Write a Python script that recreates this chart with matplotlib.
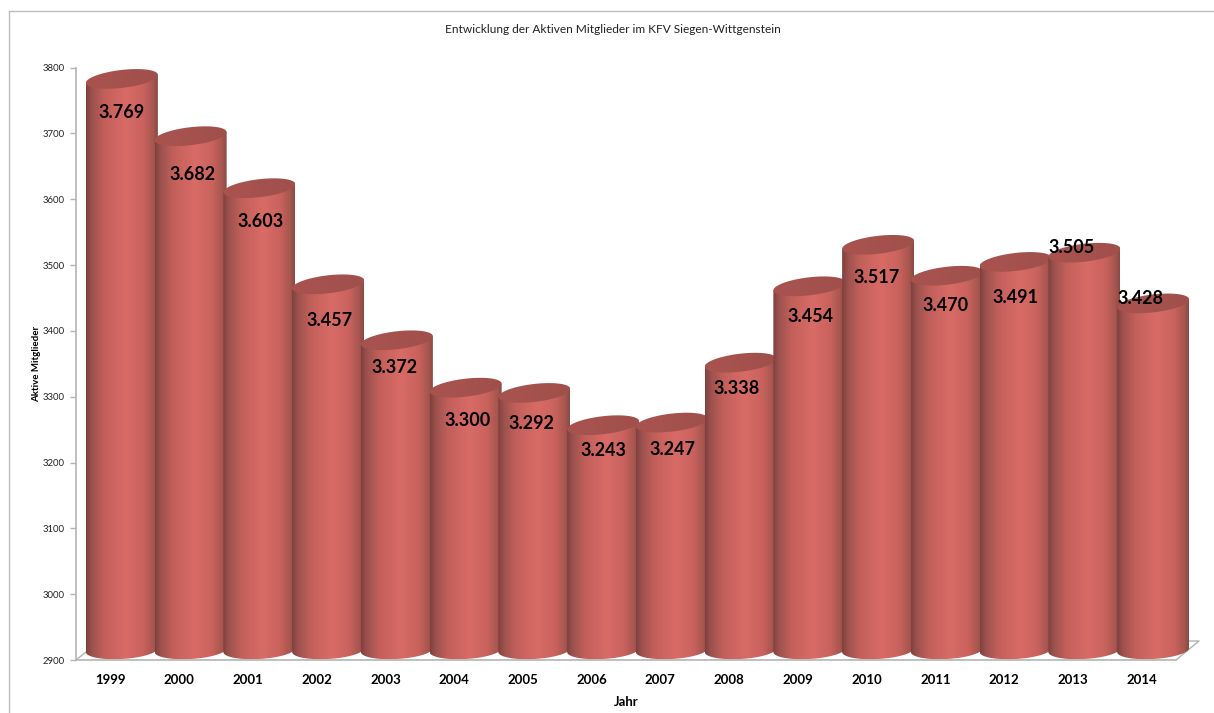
import matplotlib
matplotlib.use("Agg")
import matplotlib.pyplot as plt
import numpy as np
from matplotlib.colors import LinearSegmentedColormap
from matplotlib.lines import Line2D
from matplotlib.patches import PathPatch
from matplotlib.path import Path

years = ["1999", "2000", "2001", "2002", "2003", "2004", "2005", "2006",
         "2007", "2008", "2009", "2010", "2011", "2012", "2013", "2014"]
members = [3769, 3682, 3603, 3457, 3372, 3300, 3292, 3243,
           3247, 3338, 3454, 3517, 3470, 3491, 3505, 3428]
value_labels = ["3.769", "3.682", "3.603", "3.457", "3.372", "3.300", "3.292", "3.243",
                "3.247", "3.338", "3.454", "3.517", "3.470", "3.491", "3.505", "3.428"]
yticks = [2900, 3000, 3100, 3200, 3300, 3400, 3500, 3600, 3700, 3800]

# label placement relative to the tick / bar top, in pixels
label_dx = [11, 13, 12.5, 13, 9, 13, 8.5, 12, 12, 7, 12.5, 10, 10, 11.5, -1.5, -1]
label_dy = [25, 29, 24, 27, 18, 24, 22, 16, 18, 17, 21.5, 24, 21, 27, -14, -14]

W, H = 1214, 713
plt.rcParams["font.family"] = ["Lato", "DejaVu Sans"]

fig = plt.figure(figsize=(W / 100, H / 100), dpi=100)
ax = fig.add_axes([76 / W, 1 - 660 / H, 1100 / W, 592.5 / H])
ax.set_xlim(-0.5, 15.5)
ax.set_ylim(2900, 3800)

px_x = 16 / 1100
px_y = 900 / 592.5

body_cmap = LinearSegmentedColormap.from_list("body", [
    (0.0, "#7e403d"), (0.08, "#9c524e"), (0.25, "#c25f5a"), (0.55, "#d96b66"),
    (0.8, "#c9625d"), (0.93, "#a8574f"), (1.0, "#8a4a46")])
top_cmap = LinearSegmentedColormap.from_list("top", ["#a9534f", "#a5524e", "#a04f4b"])
gradient = np.linspace(0, 1, 256).reshape(1, -1)

half_w = 36
semi_h = 9
tilt_top = 4
tilt_bottom = 2
t = np.linspace(0, 2 * np.pi, 121)


def clipped_gradient(cmap, extent, verts, z):
    img = ax.imshow(gradient, cmap=cmap, aspect="auto", zorder=z, extent=extent)
    clip = PathPatch(Path(verts), transform=ax.transData, fc="none", ec="none")
    ax.add_patch(clip)
    clip.set_clip_on(False)
    img.set_clip_path(clip)
    # the last bar reaches past the axes box
    img.set_clip_box(fig.bbox)


def draw_cylinder(i, value):
    cx = i + 11.5 * px_x
    left = cx - half_w * px_x
    right = cx + half_w * px_x
    top_c = value + semi_h * px_y

    # lower half of the bottom ellipse gives the outline of the body
    ang = np.linspace(np.pi, 2 * np.pi, 61)
    bot_x = cx + half_w * px_x * np.cos(ang)
    bot_y = 2900 + 10 * px_y - semi_h * px_y * np.abs(np.sin(ang)) + tilt_bottom * px_y * np.cos(ang)
    top_x = cx + half_w * px_x * np.cos(t)
    top_y = top_c + semi_h * px_y * np.sin(t) + tilt_top * px_y * np.cos(t)

    verts = np.column_stack([
        np.r_[left, bot_x, right, left],
        np.r_[top_c - tilt_top * px_y, bot_y, top_c + tilt_top * px_y, top_c - tilt_top * px_y]])
    clipped_gradient(body_cmap, [left, right, 2880, top_c + 30 * px_y], verts, 3 + i)
    clipped_gradient(top_cmap, [left, right, top_c - 20 * px_y, top_c + 20 * px_y],
                     np.column_stack([top_x, top_y]), 3.5 + i)


for i, value in enumerate(members):
    draw_cylinder(i, value)

ax.set_xlim(-0.5, 15.5)
ax.set_ylim(2900, 3800)

for i, value in enumerate(members):
    ax.annotate(value_labels[i], (i, value), xytext=(label_dx[i], -label_dy[i]),
                textcoords="offset pixels", ha="center", va="center",
                fontsize=13, fontweight="bold", color="black", zorder=40,
                annotation_clip=False)

# floor of the 3d box
grey = "#b4b4b4"
ax.plot([-0.5, -0.5 + 10 * px_x], [2900, 2900 + 8 * px_y], color=grey, lw=1, clip_on=False, zorder=2)
ax.plot([15.5, 15.5 + 23 * px_x, 15.5 + 12 * px_x], [2900, 2900 + 19 * px_y, 2900 + 19 * px_y],
        color=grey, lw=1, clip_on=False, zorder=2)

for side in ["top", "right"]:
    ax.spines[side].set_visible(False)
for side in ["left", "bottom"]:
    ax.spines[side].set_color(grey)
    ax.spines[side].set_linewidth(1.2)
    ax.spines[side].set_zorder(30)

ax.set_xticks(range(len(years)))
ax.set_xticklabels(years, fontsize=9.5, fontweight="bold")
ax.set_yticks(yticks)
ax.tick_params(axis="x", length=0, pad=10)
ax.tick_params(axis="y", length=4, width=1, color=grey, labelsize=6.9, pad=4, labelcolor="#222222")

ax.set_xlabel("Jahr", fontsize=9.5, fontweight="bold", labelpad=7)
fig.text(36.5 / W, 1 - 364 / H, "Aktive Mitglieder", rotation=90, ha="center", va="center",
         fontsize=7, fontweight="bold")
fig.text(613 / W, 1 - 29.5 / H, "Entwicklung der Aktiven Mitglieder im KFV Siegen-Wittgenstein",
         ha="center", va="center", fontsize=8.55, color="#222222")

# chart frame, runs off the picture at right and bottom
fig.add_artist(Line2D([8.5 / W, 8.5 / W, 1], [0, 1 - 11 / H, 1 - 11 / H],
                      color="#bdbdbd", lw=1, transform=fig.transFigure))

fig.savefig("out.png", dpi=100)
